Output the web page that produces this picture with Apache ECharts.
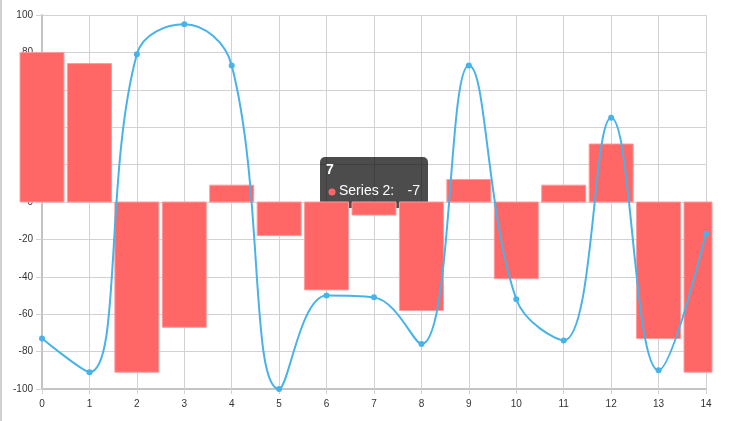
<!DOCTYPE html>
<html>
<head>
<meta charset="utf-8">
<script src="https://cdn.jsdelivr.net/npm/echarts@6/dist/echarts.min.js"></script>
<style>
html,body{margin:0;padding:0;background:#fff;}
#c{width:729px;height:421px;border-left:2px solid #d0d0d0;}
</style>
</head>
<body>
<div id="c"></div>
<script>
var xValues = [0,1,2,3,4,5,6,7,8,9,10,11,12,13,14];
var lineValues = [-73,-91,79,95,73,-100,-50,-51,-76,73,-52,-74,45,-90,-17];
var barValues = [80,74,-91,-67,9,-18,-47,-7,-58,12,-41,9,31,-73,-91];
var yTicks = {min:-100, max:100, step:20};
var lineName = 'Series 1';
var barName = 'Series 2';
var highlightIndex = 7;

var W = 729, H = 421;
var plotL = 40, plotR = 704, plotT = 15, plotB = 389;
var barClipR = 710;
var barPx = 44;
var unit = (plotR - plotL) / (xValues.length - 1);

var chart = echarts.init(document.getElementById('c'), null, {renderer:'canvas'});
var font = '"Liberation Sans", Arial, Helvetica, sans-serif';
var gridColor = '#d2d2d2';

function renderBar(params, api){
  var x = api.value(0), v = api.value(1);
  var p0 = api.coord([x, 0]), p1 = api.coord([x, v]);
  var cs = params.coordSys;
  var r = echarts.graphic.clipRectByRect(
    {x:p0[0]-barPx/2, y:Math.min(p0[1],p1[1]), width:barPx, height:Math.abs(p1[1]-p0[1])},
    {x:cs.x, y:cs.y, width:cs.width, height:cs.height});
  if(!r) return null;
  return {type:'rect', shape:r, style:{fill:'#ff6666', stroke:'#ff9c9c', lineWidth:1}};
}

var option = {
  animation:false,
  grid:[
    {left:plotL, right:W-plotR, top:plotT, bottom:H-plotB, containLabel:false},
    {left:0, right:W-barClipR, top:plotT, bottom:H-plotB, containLabel:false}
  ],
  xAxis:[
    {type:'value', gridIndex:0, min:xValues[0], max:xValues[xValues.length-1], interval:1,
     axisLine:{show:true, onZero:false, lineStyle:{color:'#c4c4c4', width:2}},
     axisTick:{show:true, length:5, lineStyle:{color:gridColor}},
     axisLabel:{color:'#333', fontSize:10, fontFamily:font, margin:10},
     splitLine:{show:true, lineStyle:{color:gridColor, width:1}}},
    {type:'value', gridIndex:1, show:false,
     min:xValues[0] - plotL/unit, max:xValues[xValues.length-1] + (barClipR-plotR)/unit}
  ],
  yAxis:[
    {type:'value', gridIndex:0, min:yTicks.min, max:yTicks.max, interval:yTicks.step,
     axisLine:{show:true, onZero:false, lineStyle:{color:'#c4c4c4', width:2}},
     axisTick:{show:true, length:6, lineStyle:{color:gridColor}},
     axisLabel:{color:'#333', fontSize:10, fontFamily:font, margin:9},
     splitLine:{show:true, lineStyle:{color:gridColor, width:1}}},
    {type:'value', gridIndex:1, show:false, min:yTicks.min, max:yTicks.max}
  ],
  series:[
    {type:'custom', name:barName, xAxisIndex:1, yAxisIndex:1, z:3,
     renderItem:renderBar,
     encode:{x:0, y:1},
     data:xValues.map(function(x,i){return [x, barValues[i]];})},
    {type:'line', name:lineName, xAxisIndex:0, yAxisIndex:0, z:4,
     smooth:0.4, symbol:'circle', symbolSize:6, clip:false,
     data:xValues.map(function(x,i){return [x, lineValues[i]];}),
     lineStyle:{color:'#48b3e8', width:2},
     itemStyle:{color:'#48b3e8'}}
  ]
};
chart.setOption(option);

// tooltip-like box anchored to the highlighted bar
var p = chart.convertToPixel({gridIndex:0}, [xValues[highlightIndex], barValues[highlightIndex]]);
var bw = 108, bh = 51;
var bx = Math.round(p[0] - bw/2), bottom = Math.round(p[1] - 7), by = bottom - bh;
chart.setOption({
  graphic:[
    {type:'group', z:100, children:[
      {type:'rect', shape:{x:bx, y:by, width:bw, height:bh, r:5}, style:{fill:'rgba(0,0,0,0.7)'}},
      {type:'polygon', shape:{points:[[p[0]-6,bottom],[p[0]+6,bottom],[p[0],bottom+5]]}, style:{fill:'rgba(0,0,0,0.7)'}},
      {type:'text', x:bx+6, y:by+13, style:{text:String(xValues[highlightIndex]), fill:'#fff', font:'bold 14px '+font, textVerticalAlign:'middle'}},
      {type:'circle', shape:{cx:bx+12, cy:by+35, r:3.5}, style:{fill:'#ff6666'}},
      {type:'text', x:bx+19, y:by+34, style:{text:barName+':', fill:'#fff', font:'14px '+font, textVerticalAlign:'middle'}},
      {type:'text', x:bx+100, y:by+34, style:{text:String(barValues[highlightIndex]), fill:'#fff', font:'14px '+font, textVerticalAlign:'middle', textAlign:'right'}}
    ]}
  ]
});
</script>
</body>
</html>
